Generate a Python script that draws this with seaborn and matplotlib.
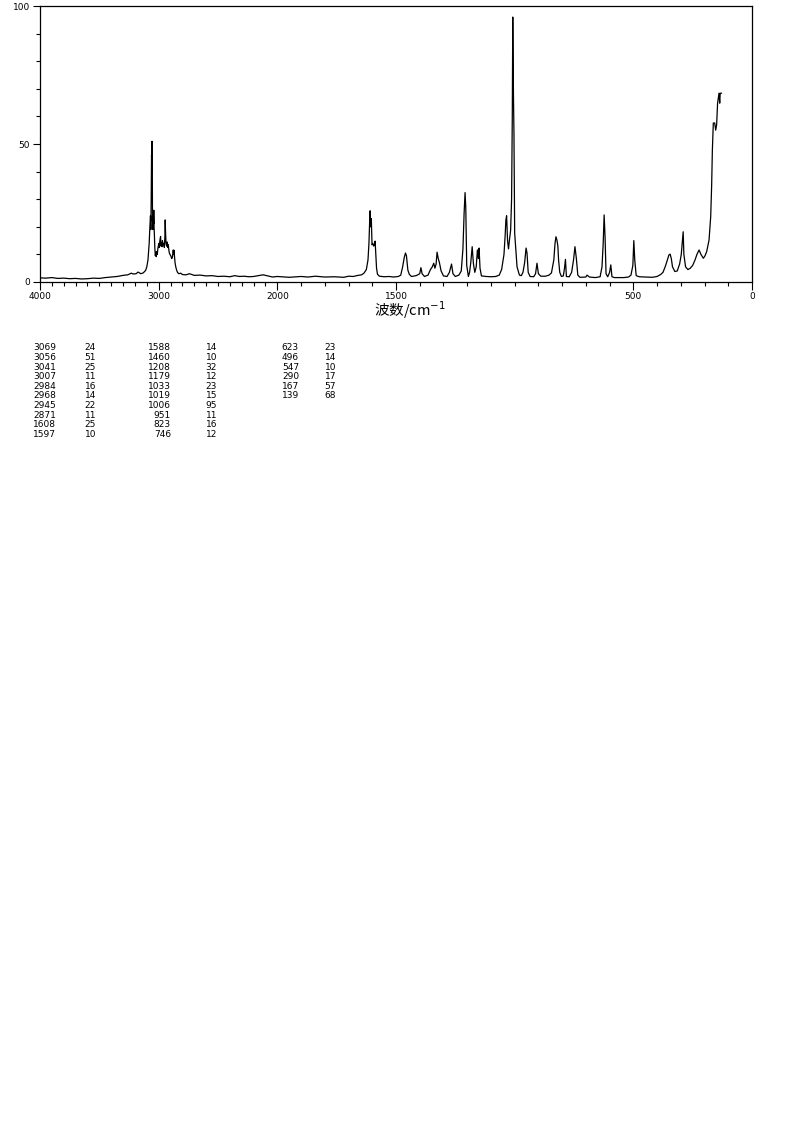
import numpy as np
import pandas as pd
import matplotlib
matplotlib.use("Agg")
import matplotlib.pyplot as plt
from matplotlib.ticker import FixedLocator, NullFormatter, FixedFormatter
import seaborn as sns

# spettro Raman (numero d'onda, intensita)
wn = [4000, 3950, 3900, 3850, 3800, 3750, 3700, 3650, 3600, 3550, 3500, 3450, 3400,
      3350, 3300, 3260, 3230, 3215, 3190, 3174, 3150, 3130, 3110, 3100, 3090, 3080,
      3075, 3069, 3066, 3063, 3060, 3058, 3056, 3054, 3052, 3050, 3048, 3045, 3043,
      3041, 3039, 3036, 3032, 3028, 3024, 3020, 3016, 3012, 3007, 3003, 2998, 2994,
      2990, 2984, 2980, 2976, 2972, 2968, 2964, 2958, 2952, 2947, 2945, 2942, 2938,
      2933, 2928, 2924, 2919, 2914, 2910, 2905, 2898, 2890, 2884, 2877, 2874, 2871,
      2868, 2862, 2856, 2848, 2840, 2830, 2815, 2800, 2770, 2740, 2700, 2650, 2600,
      2550, 2500, 2450, 2400, 2360, 2320, 2280, 2240, 2200, 2160, 2120, 2080, 2040,
      2000, 1950, 1900, 1870, 1840, 1800, 1760, 1720, 1700, 1680, 1660, 1645, 1635,
      1625, 1618, 1614, 1611, 1609, 1607, 1604, 1601, 1598, 1594, 1591, 1588, 1585,
      1582, 1578, 1570, 1550, 1530, 1510, 1490, 1480, 1472, 1465, 1460, 1456, 1450,
      1444, 1435, 1415, 1400, 1395, 1390, 1380, 1365, 1355, 1347, 1341, 1336, 1331,
      1327, 1322, 1317, 1310, 1300, 1285, 1275, 1266, 1260, 1250, 1235, 1225, 1218,
      1213, 1209, 1206, 1202, 1195, 1190, 1185, 1179, 1174, 1168, 1162, 1157, 1153,
      1150, 1146, 1140, 1120, 1100, 1080, 1065, 1055, 1045, 1040, 1037, 1034, 1030,
      1026, 1022, 1017, 1013, 1010, 1008, 1005, 1003, 1000, 996, 990, 980, 972, 965,
      958, 952, 948, 943, 935, 920, 912, 906, 900, 890, 870, 855, 845, 835, 830, 826,
      822, 818, 815, 810, 803, 795, 790, 786, 782, 770, 760, 752, 746, 740, 734, 725,
      700, 695, 685, 660, 640, 632, 627, 623, 619, 615, 608, 600, 595, 590, 580, 540,
      520, 510, 502, 498, 494, 488, 475, 450, 420, 400, 385, 375, 365, 355, 350, 345,
      340, 335, 325, 315, 305, 298, 292, 290, 287, 280, 270, 260, 250, 240, 232, 223,
      215, 205, 198, 191, 185, 181, 174, 170, 167, 163, 157, 153, 149, 145, 139, 136,
      134, 128]
inten = [1.5, 1.4, 1.6, 1.3, 1.4, 1.2, 1.3, 1.1, 1.2, 1.4, 1.3, 1.6, 1.8,
         2.0, 2.4, 2.6, 3.2, 2.9, 3.0, 3.6, 3.0, 3.3, 4.2, 5.5, 8.0, 14,
         19, 24, 19, 30, 46, 42, 51, 47, 22, 26, 19, 25, 21,
         26, 20, 17, 12, 9.5, 10.8, 9.2, 11, 10, 12, 13, 14, 12.5,
         15, 16.5, 13, 14, 12.8, 15, 13.5, 14, 12.5, 17, 22.5, 18, 14,
         13, 14.5, 12.5, 13.5, 11.5, 10.5, 10, 9.5, 8.5, 9, 11.6, 10.2, 11.5,
         10, 7, 5.5, 4.2, 3.4, 3.0, 3.2, 2.7, 2.6, 3.0, 2.4, 2.5, 2.2,
         2.3, 2.0, 2.1, 1.9, 2.3, 2.0, 2.1, 1.9, 2.0, 2.3, 2.6, 2.2, 1.8,
         2.0, 1.7, 2.0, 1.8, 2.1, 1.8, 1.9, 1.7, 2.1, 2.0, 2.4, 2.6, 3.2,
         4.5, 8, 14, 22, 25.8, 20, 23, 13.5, 14, 13, 13.5, 14.8, 10,
         5, 2.8, 2.1, 1.9, 2.0, 1.8, 2.0, 2.5, 5.5, 9, 10.5, 9.5, 4.3,
         2.8, 2.0, 2.3, 3.0, 5.2, 3.0, 2.0, 2.5, 4.5, 5.5, 6.8, 5.0, 6.5,
         10.8, 8.5, 7.0, 4.0, 2.2, 2.0, 3.5, 6.5, 3.0, 2.0, 2.5, 4.0, 12,
         25, 32.4, 27, 6, 2.0, 3.5, 7, 12.8, 6.8, 3.5, 5.5, 11.6, 8.5,
         12.3, 5, 2.2, 2.0, 1.9, 2.0, 2.5, 4.5, 10, 17, 22.5, 24, 15,
         12, 15.2, 18.8, 30, 60, 96, 67, 54, 17.7, 12.8, 5.5, 2.5, 2.3, 3.5,
         7, 12.3, 10.5, 3.5, 2.0, 1.9, 3.0, 6.8, 3.0, 2.1, 2.1, 2.5, 3.3, 8, 14, 16.4,
         15.2, 13, 8, 3.5, 2.0, 2.2, 5.0, 8.2, 2.0, 1.9, 3.5, 8, 12.8, 8.5, 2.5, 1.7,
         1.8, 2.5, 1.8, 1.6, 1.9, 5.5, 14, 24.3, 16, 3.0, 1.9, 3.5, 6.2, 1.9, 1.6, 1.6,
         1.8, 2.5, 6, 15, 8, 2.3, 1.9, 1.8, 1.7, 2.0, 2.7, 3.5, 5.7, 8.5, 9.8, 10.1,
         8.5, 5.5, 3.8, 4.0, 6.5, 10, 16, 18.2, 10, 5.5, 4.5, 5.0, 6.0, 8, 10, 11.6,
         10, 8.6, 9.5, 11, 13.5, 15.2, 23.7, 35, 47.8, 57.6, 57.6, 55, 57, 64.8, 68.4, 64.8,
         68.4, 68.4]

# tabella dei picchi
peak_wn = ["3069", "3056", "3041", "3007", "2984", "2968", "2945", "2871", "1608", "1597",
           "1588", "1460", "1208", "1179", "1033", "1019", "1006", "951", "823", "746",
           "623", "496", "547", "290", "167", "139"]
peak_int = ["24", "51", "25", "11", "16", "14", "22", "11", "25", "10",
            "14", "10", "32", "12", "23", "15", "95", "11", "16", "12",
            "23", "14", "10", "17", "57", "68"]

df = pd.DataFrame({"wn": wn, "inten": inten})

sns.set_style("ticks")
plt.rcParams['font.family'] = ['DejaVu Sans']
plt.rcParams['text.color'] = 'black'

W, H = 794, 1134
fig = plt.figure(figsize=(W / 100, H / 100), dpi=100)
ax = fig.add_axes([40 / W, 1 - 282 / H, 712 / W, 276 / H])

sns.lineplot(data=df, x="wn", y="inten", ax=ax, color="black", linewidth=0.9,
             sort=False, estimator=None)


# asse x compresso sopra 2000
def fwd(x):
    x = np.asarray(x, dtype=float)
    return np.where(x > 2000, 2000 + (x - 2000) / 2, x)


def inv(y):
    y = np.asarray(y, dtype=float)
    return np.where(y > 2000, 2000 + (y - 2000) * 2, y)


ax.set_xscale("function", functions=(fwd, inv))
ax.set_xlim(4000, 0)
ax.set_ylim(0, 100)

ax.xaxis.set_major_locator(FixedLocator([4000, 3000, 2000, 1500, 500, 0]))
ax.xaxis.set_major_formatter(FixedFormatter(["4000", "3000", "2000", "1500", "500", "0"]))
ax.xaxis.set_minor_locator(FixedLocator(list(range(0, 4001, 100))))
ax.xaxis.set_minor_formatter(NullFormatter())
ax.yaxis.set_major_locator(FixedLocator([0, 50, 100]))
ax.yaxis.set_minor_locator(FixedLocator(list(range(0, 101, 10))))

ax.tick_params(axis="both", which="major", length=6, width=0.8, labelsize=6.5,
               direction="out", color="black", labelcolor="black", pad=1.5)
ax.tick_params(axis="both", which="minor", length=3, width=0.8, direction="out", color="black")
ax.tick_params(axis="y", which="major", length=5, pad=2)

for s in ax.spines.values():
    s.set_linewidth(0.9)
    s.set_color("black")

ax.set_xlabel("")
ax.set_ylabel("")

fig.text(410 / W, 1 - 310 / H, "波数/cm$^{-1}$", ha="center", va="center", fontsize=10.5,
         color="black", family=["Noto Sans CJK SC", "DejaVu Sans"])

# tabella sotto il grafico
col_x = [(56, 96), (171, 217), (299, 336)]
for i, (w, v) in enumerate(zip(peak_wn, peak_int)):
    c, r = divmod(i, 10)
    y = 1 - (348 + r * 9.6) / H
    fig.text(col_x[c][0] / W, y, w, ha="right", va="center", fontsize=6.5, color="black")
    fig.text(col_x[c][1] / W, y, v, ha="right", va="center", fontsize=6.5, color="black")

fig.savefig("out.png", dpi=100)
